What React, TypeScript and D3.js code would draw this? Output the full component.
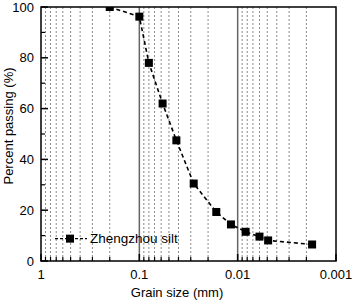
import React from "react";
import * as d3 from "d3";

const grainSize = [0.2, 0.1, 0.08, 0.058, 0.042, 0.028, 0.0165, 0.0117, 0.0083, 0.006, 0.0049, 0.00175];
const percentPassing = [100, 96.2, 78, 62, 47.5, 30.5, 19.3, 14.4, 11.5, 9.6, 8.1, 6.5];
const xMajorTicks = [1, 0.1, 0.01, 0.001];
const xTickLabels = ["1", "0.1", "0.01", "0.001"];
const yMajorTicks = [0, 20, 40, 60, 80, 100];
const yMinorTicks = [10, 30, 50, 70, 90];
const seriesName = "Zhengzhou silt";

const W = 353, H = 302;
const m = { l: 41, t: 7, r: 17, b: 41 };
const font = "'Liberation Sans', Arial, sans-serif";

export default function App() {
  const x = d3.scaleLog().domain([1, 0.001]).range([m.l, W - m.r]);
  const y = d3.scaleLinear().domain([0, 100]).range([H - m.b, m.t]);
  const minor: number[] = [];
  [0.1, 0.01, 0.001].forEach((d) => {
    for (let k = 2; k <= 9; k++) minor.push(+(k * d).toPrecision(3));
  });
  const pts = grainSize.map((g, i) => [x(g), y(percentPassing[i])] as [number, number]);
  const line = d3.line();
  const x0 = m.l, x1 = W - m.r, y0 = H - m.b, y1 = m.t;
  const legY = y(8.8);
  return (
    <svg width={W} height={H} style={{ position: "absolute", left: 0, top: 0, background: "#fff" }} fontFamily={font}>
      <defs>
        <clipPath id="plot">
          <rect x={x0} y={y1} width={x1 - x0} height={y0 - y1} />
        </clipPath>
      </defs>
      {minor.map((v) => (
        <line key={"g" + v} x1={x(v)} x2={x(v)} y1={y1} y2={y0} stroke="#8a8a8a" strokeWidth={1} strokeDasharray="2,2" />
      ))}
      {[0.1, 0.01].map((v) => (
        <line key={"G" + v} x1={x(v)} x2={x(v)} y1={y1} y2={y0} stroke="#666" strokeWidth={1.5} />
      ))}
      {xMajorTicks.map((v) => (
        <line key={"xt" + v} x1={x(v)} x2={x(v)} y1={y0} y2={y0 - 7} stroke="#000" strokeWidth={1.5} />
      ))}
      {minor.map((v) => (
        <line key={"xm" + v} x1={x(v)} x2={x(v)} y1={y0} y2={y0 - 4} stroke="#000" strokeWidth={1.2} />
      ))}
      {yMajorTicks.map((v) => (
        <line key={"yt" + v} x1={x0} x2={x0 + 7} y1={y(v)} y2={y(v)} stroke="#000" strokeWidth={1.5} />
      ))}
      {yMinorTicks.map((v) => (
        <line key={"ym" + v} x1={x0} x2={x0 + 4} y1={y(v)} y2={y(v)} stroke="#000" strokeWidth={1.2} />
      ))}
      <g clipPath="url(#plot)">
        <path d={line(pts) || ""} fill="none" stroke="#000" strokeWidth={1.6} strokeDasharray="4,3" />
        {pts.map((p, i) => (
          <rect key={"p" + i} x={p[0] - 4} y={p[1] - 4} width={8} height={8} fill="#000" />
        ))}
      </g>
      <rect x={x0} y={y1} width={x1 - x0} height={y0 - y1} fill="none" stroke="#000" strokeWidth={1.5} />
      {xMajorTicks.map((v, i) => (
        <text key={"xl" + v} x={x(v)} y={y0 + 18} textAnchor="middle" fontSize={13} fill="#000">
          {xTickLabels[i]}
        </text>
      ))}
      {yMajorTicks.map((v) => (
        <text key={"yl" + v} x={x0 - 7} y={y(v) + 4.5} textAnchor="end" fontSize={13} fill="#000">
          {v}
        </text>
      ))}
      <text x={177} y={297} textAnchor="middle" fontSize={13} fill="#000">Grain size (mm)</text>
      <text transform={`translate(13,126) rotate(-90)`} textAnchor="middle" fontSize={13} fill="#000">Percent passing (%)</text>
      <line x1={55} x2={87} y1={legY} y2={legY} stroke="#000" strokeWidth={1.4} strokeDasharray="3,2" />
      <rect x={66} y={legY - 4} width={8} height={8} fill="#000" />
      <text x={90} y={legY + 4.5} fontSize={13.5} fill="#000">{seriesName}</text>
    </svg>
  );
}
